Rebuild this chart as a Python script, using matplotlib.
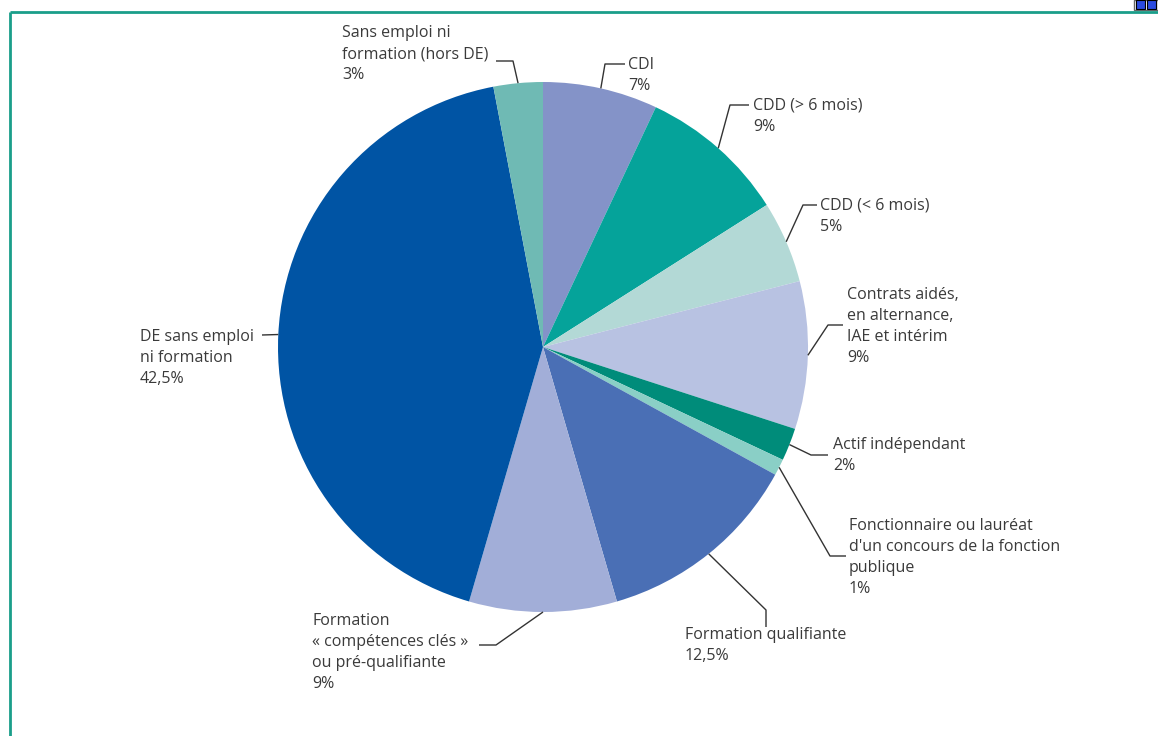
import matplotlib
matplotlib.use("Agg")
import matplotlib.pyplot as plt
import numpy as np
from matplotlib.patches import Rectangle

# ---- data ----
labels = [
    "CDI\n7%",
    "CDD (> 6 mois)\n9%",
    "CDD (< 6 mois)\n5%",
    "Contrats aidés,\nen alternance,\nIAE et intérim\n9%",
    "Actif indépendant\n2%",
    "Fonctionnaire ou lauréat\nd'un concours de la fonction\npublique\n1%",
    "Formation qualifiante\n12,5%",
    "Formation\n« compétences clés »\nou pré-qualifiante\n9%",
    "DE sans emploi\nni formation\n42,5%",
    "Sans emploi ni\nformation (hors DE)\n3%",
]
values = [7, 9, 5, 9, 2, 1, 12.5, 9, 42.5, 3]
colors = ["#8493C8", "#05A39A", "#B3D9D6", "#B8C2E2", "#008C7A",
          "#8ACFC6", "#4A6FB5", "#A2AED8", "#0054A4", "#6FBAB4"]

# ---- layout (pixel coordinates, y downward) ----
W, H = 1158, 736
CX, CY, R = 543, 347, 265
# (elbow x, elbow y, end x, end y, text x, text top y)
layout = [
    (605, 64, 625, 64, 628, 57),
    (730, 105, 749, 105, 753, 98),
    (803, 205, 817, 205, 820, 198),
    (828, 325, 843, 325, 847, 287),
    (811, 455, 828, 455, 833, 437),
    (830, 556, 846, 556, 849, 518),
    (766, 610, 766, 627, 685, 627),
    (496, 645, 479, 645, 312, 613),
    (262, 335, 262, 335, 140, 329),
    (513, 61, 496, 61, 342, 25),
]

plt.rcParams['font.family'] = ['Open Sans', 'DejaVu Sans']
fig = plt.figure(figsize=(W / 100, H / 100), dpi=100)
ax = fig.add_axes([0, 0, 1, 1])

def Y(y):
    return H - y

wedges, _ = ax.pie(values, colors=colors, startangle=90, counterclock=False,
                   center=(CX, Y(CY)), radius=R, frame=True,
                   wedgeprops=dict(linewidth=0))
ax.set_xlim(0, W)
ax.set_ylim(0, H)
ax.set_aspect('auto')
ax.axis('off')

tc = "#3a3a3a"
for w, lab, (ex, ey, hx, hy, tx, ty) in zip(wedges, labels, layout):
    ang = np.deg2rad((w.theta1 + w.theta2) / 2)
    sx = CX + R * np.cos(ang)
    sy = Y(CY) + R * np.sin(ang)
    ax.plot([sx, ex, hx], [sy, Y(ey), Y(hy)], color="#333333", lw=1.0,
            solid_capstyle='butt')
    ax.text(tx, Y(ty), lab, ha='left', va='top', fontsize=11.5, color=tc,
            linespacing=1.42)

# frame
ax.plot([10, W], [Y(12), Y(12)], color="#1A9E8A", lw=2, solid_capstyle='butt')
ax.plot([10, 10], [Y(12), 0], color="#1A9E8A", lw=2, solid_capstyle='butt')
ax.add_patch(Rectangle((1134, Y(10)), 24, 10, facecolor="#ffffff", edgecolor="#666666", lw=1))
ax.add_patch(Rectangle((1136, Y(9)), 9, 9, facecolor="#2B4BE0", edgecolor="#000000", lw=0.8))
ax.add_patch(Rectangle((1147, Y(9)), 9, 9, facecolor="#2B4BE0", edgecolor="#000000", lw=0.8))

fig.savefig("out.png", dpi=100)
